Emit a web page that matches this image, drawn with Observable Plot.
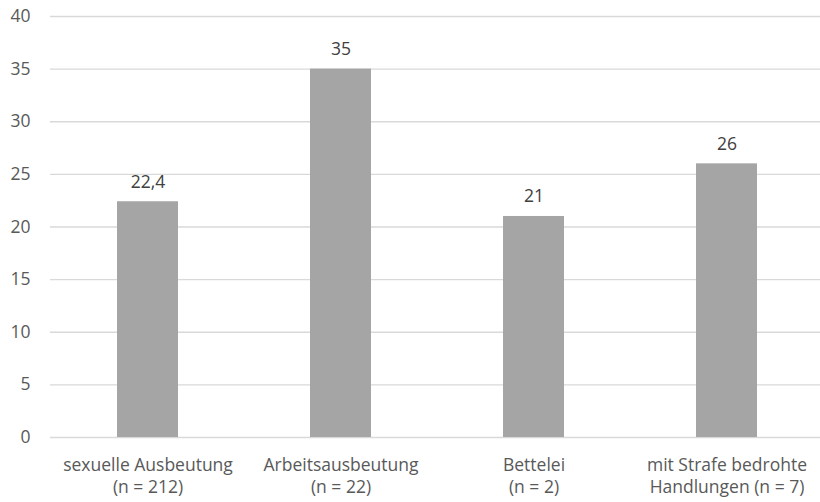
<!DOCTYPE html>
<html>
<head>
<meta charset="utf-8">
<script src="https://cdn.jsdelivr.net/npm/d3@7"></script>
<script src="https://cdn.jsdelivr.net/npm/@observablehq/plot@0.6"></script>
<style>
  html, body { margin: 0; padding: 0; background: #fff; }
  #chart svg { display: block; }
</style>
</head>
<body>
<div id="chart"></div>
<script>
const categories = [
  "sexuelle Ausbeutung\n(n = 212)",
  "Arbeitsausbeutung\n(n = 22)",
  "Bettelei\n(n = 2)",
  "mit Strafe bedrohte\nHandlungen (n = 7)"
];
const values = [22.4, 35, 21, 26];
const yTicks = [0, 5, 10, 15, 20, 25, 30, 35, 40];

const data = categories.map((c, i) => ({category: c, value: values[i]}));
const fmt = d => d.toLocaleString("de-DE");

const chart = Plot.plot({
  width: 820,
  height: 502,
  marginTop: 16,
  marginBottom: 65,
  marginLeft: 50,
  marginRight: 0,
  style: {fontFamily: "'Open Sans', sans-serif", fontSize: "18px", color: "#595959", background: "#fff"},
  x: {domain: categories, range: [50, 824], paddingInner: 0.685, paddingOuter: 0.3425, label: null},
  y: {domain: [0, 40], label: null},
  marks: [
    Plot.ruleY(yTicks, {stroke: "#d9d9d9", strokeWidth: 1.3}),
    Plot.barY(data, {x: "category", y: "value", fill: "#a5a5a5"}),
    Plot.text(data, {x: "category", y: "value", text: d => fmt(d.value), dy: -14, lineAnchor: "bottom", fill: "#404040", fontSize: 17.5}),
    Plot.axisY({ticks: yTicks, tickSize: 0, tickPadding: 20, textAnchor: "end", tickFormat: d => d, fill: "#595959", fontSize: 17.5, label: null}),
    Plot.axisX({tickSize: 0, tickPadding: 17, fill: "#595959", fontSize: 17.5, lineHeight: 1.3, label: null})
  ]
});
document.getElementById("chart").appendChild(chart);
</script>
</body>
</html>
